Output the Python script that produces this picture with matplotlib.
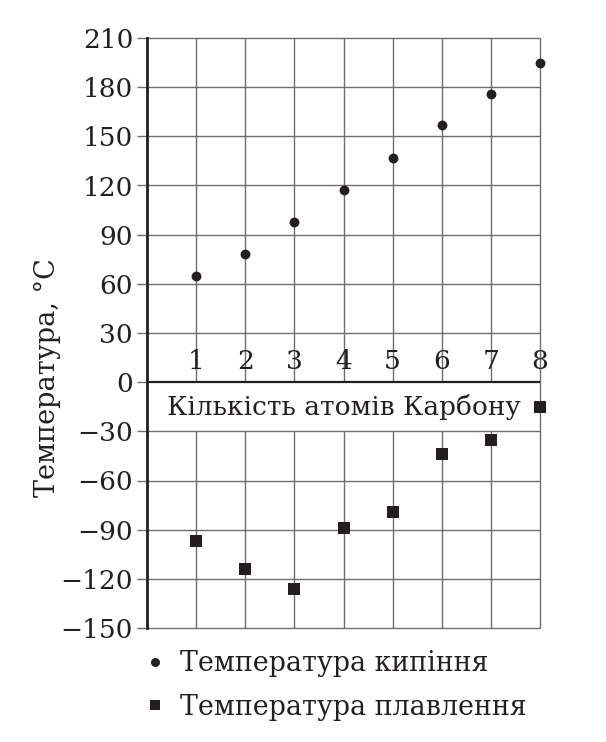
import matplotlib
matplotlib.use("Agg")
import matplotlib.pyplot as plt
from matplotlib.lines import Line2D

atoms = [1, 2, 3, 4, 5, 6, 7, 8]
boiling = [65, 78, 98, 117, 137, 157, 176, 195]
melting = [-97, -114, -126, -89, -79, -44, -35, -15]
y_ticks = [-150, -120, -90, -60, -30, 0, 30, 60, 90, 120, 150, 180, 210]
x_label = "Кількість атомів Карбону"
y_label = "Температура, °C"
legend_labels = ["Температура кипіння", "Температура плавлення"]

plt.rcParams['font.family'] = ['DejaVu Serif', 'DejaVu Sans']
plt.rcParams['mathtext.fontset'] = 'dejavuserif'

ink = '#231f20'
grid_c = '#6d6d6d'
fs = 19

fig = plt.figure(figsize=(6.06, 7.42), dpi=100)
ax = fig.add_axes([147/606, 1-628/742, 393/606, 590/742])

ymin, ymax = y_ticks[0], y_ticks[-1]
ax.set_xlim(0, atoms[-1])
ax.set_ylim(ymin, ymax)

# horizontal grid
ax.hlines([t for t in y_ticks if t != 0], 0, atoms[-1], colors=grid_c, lw=1.0, zorder=1, clip_on=False)
# vertical grid, interrupted by the axis-title band (0 .. -30), except the right edge
band_low = y_ticks[4]
ax.vlines(atoms[:-1], 0, ymax, colors=grid_c, lw=1.0, zorder=1, clip_on=False)
ax.vlines(atoms[:-1], ymin, band_low, colors=grid_c, lw=1.0, zorder=1, clip_on=False)
ax.vlines([atoms[-1]], ymin, ymax, colors=grid_c, lw=1.0, zorder=1, clip_on=False)
# zero axis
ax.axhline(0, color=ink, lw=1.6, zorder=2)

for s in ['top', 'right', 'bottom']:
    ax.spines[s].set_visible(False)
ax.spines['left'].set_color(ink)
ax.spines['left'].set_linewidth(2.0)
ax.spines['left'].set_zorder(3)

ax.set_yticks(y_ticks)
ax.tick_params(axis='y', length=7, width=1.0, color=grid_c, labelsize=fs,
               labelcolor=ink, pad=3)
ax.set_xticks([])

for a in atoms:
    ax.annotate(str(a), (a, 0), xytext=(0, 6), textcoords='offset points',
                ha='center', va='bottom', fontsize=fs, color=ink)

ax.text(atoms[-1]/2, band_low/2, x_label, ha='center', va='center',
        fontsize=fs, color=ink, zorder=3)

ax.scatter(atoms, boiling, marker='o', s=50, color=ink, zorder=4, linewidths=0, clip_on=False)
ax.scatter(atoms, melting, marker='s', s=80, color=ink, zorder=4, linewidths=0, clip_on=False)

ax.set_ylabel(y_label, fontsize=fs + 0.5, color=ink)
ax.yaxis.set_label_coords(-0.22, 0.424)

handles = [Line2D([], [], ls='none', marker='o', markersize=6.5, color=ink, markeredgewidth=0),
           Line2D([], [], ls='none', marker='s', markersize=7.5, color=ink, markeredgewidth=0)]
fig.legend(handles, legend_labels, loc='upper left', bbox_to_anchor=(142/606, 1-650/742),
           frameon=False, fontsize=fs + 0.4, handlelength=1.0, handletextpad=0.4,
           labelspacing=0.62, borderaxespad=0, borderpad=0, labelcolor=ink)

fig.savefig("out.png", dpi=100, facecolor='white')
